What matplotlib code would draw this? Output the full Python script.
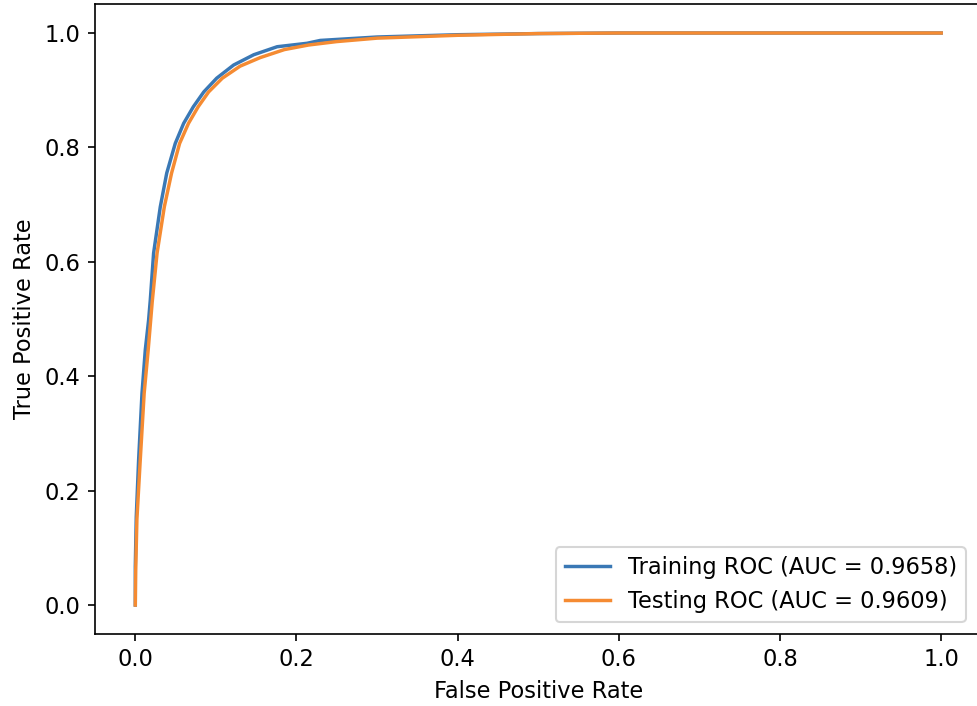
import matplotlib
matplotlib.use('Agg')
import matplotlib.pyplot as plt

# ROC points
train_fpr = [0.0, 0.0, 0.0012, 0.0041, 0.0083, 0.0124, 0.0165, 0.0186, 0.0227, 0.031,
             0.039, 0.0496, 0.060, 0.072, 0.085, 0.101, 0.122, 0.147, 0.176, 0.213,
             0.2295, 0.30, 0.40, 0.50, 0.60, 1.0]
train_tpr = [0.0, 0.067, 0.154, 0.253, 0.370, 0.446, 0.498, 0.533, 0.615, 0.696,
             0.755, 0.807, 0.842, 0.871, 0.897, 0.921, 0.944, 0.962, 0.976, 0.982,
             0.987, 0.993, 0.997, 0.999, 1.0, 1.0]

test_fpr = [0.0, 0.0005, 0.002, 0.006, 0.011, 0.016, 0.021, 0.027, 0.036, 0.045,
            0.055, 0.066, 0.078, 0.091, 0.108, 0.13, 0.155, 0.185, 0.215, 0.25,
            0.30, 0.40, 0.50, 0.60, 1.0]
test_tpr = [0.0, 0.06, 0.15, 0.25, 0.37, 0.446, 0.53, 0.615, 0.696, 0.755,
            0.807, 0.842, 0.871, 0.897, 0.921, 0.942, 0.957, 0.971, 0.979, 0.985,
            0.991, 0.996, 0.999, 1.0, 1.0]

train_auc = 0.9658
test_auc = 0.9609

plt.rcParams['font.size'] = 10.8
plt.rcParams['lines.linewidth'] = 1.65

fig = plt.figure(figsize=(977/150, 706/150), dpi=150)
# the reference is cropped: right spine falls just outside the picture
ax = fig.add_axes([95/977, 1 - 633.6/706, 886.5/977, 629.2/706])
ax.plot(train_fpr, train_tpr, color='#3a78b5', label='Training ROC (AUC = %.4f)' % train_auc)
ax.plot(test_fpr, test_tpr, color='#f58b32', label='Testing ROC (AUC = %.4f)' % test_auc)
ax.set_xlabel('False Positive Rate')
ax.set_ylabel('True Positive Rate')
ax.legend(loc='lower right', bbox_to_anchor=(0.995, 0.0))
fig.savefig('out.png', dpi=150)
plt.close()
